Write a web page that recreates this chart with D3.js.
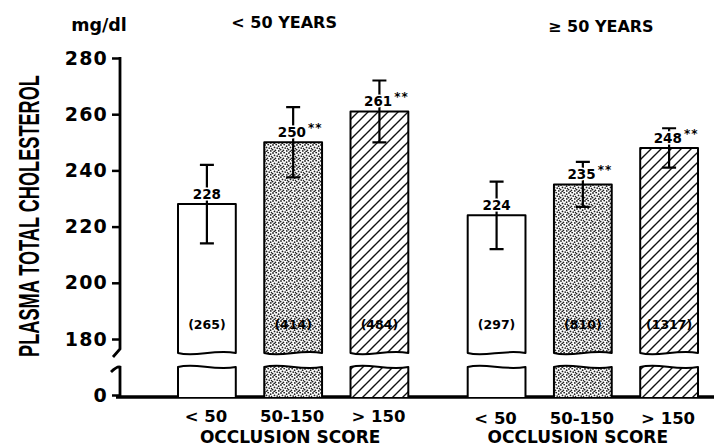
<!DOCTYPE html>
<html>
<head>
<meta charset="utf-8">
<script src="https://cdn.jsdelivr.net/npm/d3@7/dist/d3.min.js"></script>
<style>
  html, body { margin: 0; padding: 0; background: #fff; }
  svg { display: block; }
</style>
</head>
<body>
<svg id="chart" width="714" height="447"></svg>
<script>
// ---------- data ----------
const groups = ["< 50 YEARS", "\u2265 50 YEARS"];
const categories = ["< 50", "50-150", "> 150"];
const meansYoung = [228, 250, 261];
const meansOld = [224, 235, 248];
const seYoung = [14, 12.5, 11];
const seOld = [12, 8, 7];
const nYoung = [265, 414, 484];
const nOld = [297, 810, 1317];
const sigYoung = ["", "**", "**"];
const sigOld = ["", "**", "**"];
const yTicks = [180, 200, 220, 240, 260, 280];
const zeroTick = [0];
const unitLabel = "mg/dl";
const yTitle = "PLASMA TOTAL CHOLESTEROL";
const xTitle = "OCCLUSION SCORE";

const rows = [];
[[meansYoung, seYoung, nYoung, sigYoung], [meansOld, seOld, nOld, sigOld]].forEach((arr, gi) => {
  categories.forEach((c, ci) => {
    rows.push({ group: groups[gi], gi, cat: c, ci, mean: arr[0][ci], se: arr[1][ci], n: arr[2][ci], sig: arr[3][ci] });
  });
});

// ---------- layout ----------
const svg = d3.select("#chart");
const font = "'DejaVu Sans', 'Liberation Sans', Arial, sans-serif";
const axisX = 120;
const breakTop = 353;     // bottom of upper bar part
const lowTop = 367;       // top of lower bar part
const baseY = 397;

const y = d3.scaleLinear().domain([180, 280]).range([339, 58]);
const yLow = d3.scaleLinear().domain([0, 10]).range([395, 367]);

const x0 = d3.scaleBand().domain(groups).range([178, 698]).paddingInner(0.205).paddingOuter(0);
const x1 = d3.scaleBand().domain(categories).range([0, x0.bandwidth()]).paddingInner(0.33).paddingOuter(0);

// ---------- patterns ----------
const defs = svg.append("defs");
const dots = defs.append("pattern").attr("id", "dots").attr("patternUnits", "userSpaceOnUse")
  .attr("width", 8).attr("height", 8);
dots.append("rect").attr("width", 8).attr("height", 8).attr("fill", "#fff");
[[1,1],[4.2,0.6],[6.6,2.2],[2.5,3.4],[5.2,4.1],[0.6,5.6],[3.4,6.4],[6.8,6.9],[7.6,4.6],[2.2,7.7]].forEach(p => {
  dots.append("circle").attr("cx", p[0]).attr("cy", p[1]).attr("r", 0.9).attr("fill", "#222");
});

const hatch = defs.append("pattern").attr("id", "hatch").attr("patternUnits", "userSpaceOnUse")
  .attr("width", 10).attr("height", 10);
hatch.append("rect").attr("width", 10).attr("height", 10).attr("fill", "#fff");
hatch.append("path").attr("d", "M-2,2 L2,-2 M0,10 L10,0 M8,12 L12,8")
  .attr("stroke", "#111").attr("stroke-width", 1.4);

const fillFor = ci => ["#fff", "url(#dots)", "url(#hatch)"][ci];

// ---------- axis ----------
const gAxis = svg.append("g").attr("transform", `translate(${axisX},0)`);
gAxis.call(d3.axisLeft(y).tickValues(yTicks).tickSize(8).tickPadding(4));
gAxis.call(g => g.select(".domain").remove());
const gAxis0 = svg.append("g").attr("transform", `translate(${axisX},0)`);
gAxis0.call(d3.axisLeft(yLow).tickValues(zeroTick).tickSize(8).tickPadding(4));
gAxis0.call(g => g.select(".domain").remove());
svg.selectAll(".tick line").attr("stroke", "#000").attr("stroke-width", 2.5);
svg.selectAll(".tick text").attr("font-family", font).attr("font-weight", "bold")
  .attr("font-size", 19).attr("fill", "#000").attr("letter-spacing", 1.2);

// axis line with break
svg.append("path")
  .attr("d", `M${axisX},${y(280) - 1} L${axisX},${breakTop - 4} L${axisX - 7},${breakTop + 4}`)
  .attr("fill", "none").attr("stroke", "#000").attr("stroke-width", 2.8);
svg.append("path")
  .attr("d", `M${axisX - 9},${lowTop + 5} Q${axisX - 3},${lowTop - 1} ${axisX},${lowTop} L${axisX},${baseY}`)
  .attr("fill", "none").attr("stroke", "#000").attr("stroke-width", 2.8);

// baseline
svg.append("line").attr("x1", axisX - 4).attr("x2", 714).attr("y1", baseY).attr("y2", baseY)
  .attr("stroke", "#000").attr("stroke-width", 3.5);

// ---------- bars ----------
const bars = svg.append("g").selectAll("g").data(rows).join("g");

bars.append("path")
  .attr("d", d => {
    const xa = x0(d.group) + x1(d.cat), w = x1.bandwidth(), xb = xa + w, t = y(d.mean), b = breakTop;
    return `M${xa},${b} L${xa},${t} L${xb},${t} L${xb},${b} C${xa + w * 0.6},${b - 4} ${xa + w * 0.3},${b + 5} ${xa},${b} Z`;
  })
  .attr("fill", d => fillFor(d.ci)).attr("stroke", "#000").attr("stroke-width", 2).attr("stroke-linejoin", "round");

bars.append("path")
  .attr("d", d => {
    const xa = x0(d.group) + x1(d.cat), w = x1.bandwidth(), xb = xa + w, t = lowTop, b = baseY;
    return `M${xa},${b} L${xa},${t} C${xa + w * 0.3},${t - 5} ${xa + w * 0.6},${t + 4} ${xb},${t} L${xb},${b}`;
  })
  .attr("fill", d => fillFor(d.ci)).attr("stroke", "#000").attr("stroke-width", 2).attr("stroke-linejoin", "round");

// error bars
bars.append("path")
  .attr("d", d => {
    const cx = x0(d.group) + x1(d.cat) + x1.bandwidth() / 2;
    const hi = y(d.mean + d.se), lo = y(d.mean - d.se);
    return `M${cx - 7},${hi} L${cx + 7},${hi} M${cx},${hi} L${cx},${lo} M${cx - 7},${lo} L${cx + 7},${lo}`;
  })
  .attr("fill", "none").attr("stroke", "#000").attr("stroke-width", 2.2);

// value labels
const vl = bars.append("text")
  .attr("x", d => x0(d.group) + x1(d.cat) + x1.bandwidth() / 2 + (d.sig ? 7 : 0))
  .attr("y", d => y(d.mean) - 5)
  .attr("text-anchor", "middle")
  .attr("font-family", font).attr("font-weight", "bold").attr("font-size", 13.5)
  .attr("stroke", "#fff").attr("stroke-width", 3).attr("paint-order", "stroke").attr("fill", "#000");
vl.append("tspan").text(d => d.mean);
vl.append("tspan").attr("dy", -5).attr("font-size", 12).attr("dx", 2).attr("letter-spacing", 1).text(d => d.sig);

// n labels
bars.append("text")
  .attr("x", d => x0(d.group) + x1(d.cat) + x1.bandwidth() / 2)
  .attr("y", 329)
  .attr("text-anchor", "middle")
  .attr("font-family", font).attr("font-weight", "bold").attr("font-size", 12.5).attr("fill", "#000")
  .text(d => `(${d.n})`);

// ---------- texts ----------
const tickY = [422, 424];
groups.forEach((g, gi) => {
  categories.forEach(c => {
    svg.append("text")
      .attr("x", x0(g) + x1(c) + x1.bandwidth() / 2 - 1)
      .attr("y", tickY[gi])
      .attr("text-anchor", "middle")
      .attr("font-family", font).attr("font-weight", "bold").attr("font-size", 16.5).attr("fill", "#000")
      .text(c);
  });
  svg.append("text")
    .attr("x", x0(g) + x0.bandwidth() / 2 + [-3, -5][gi])
    .attr("y", [443, 443][gi])
    .attr("text-anchor", "middle")
    .attr("font-family", font).attr("font-weight", "bold").attr("font-size", 17).attr("fill", "#000")
    .text(xTitle);
  svg.append("text")
    .attr("x", x0(g) + x0.bandwidth() / 2 + [-9, 18][gi])
    .attr("y", [28, 32][gi])
    .attr("text-anchor", "middle")
    .attr("font-family", font).attr("font-weight", "bold").attr("font-size", 16).attr("fill", "#000")
    .text(g);
});

svg.append("text").attr("x", 99).attr("y", 31).attr("text-anchor", "middle")
  .attr("font-family", font).attr("font-weight", "bold").attr("font-size", 17.5).attr("fill", "#000")
  .text(unitLabel);

// y title: condensed by a horizontal scale so that it spans the axis height
const yt = svg.append("text")
  .attr("text-anchor", "middle")
  .attr("font-family", "'Liberation Sans Narrow', 'Liberation Sans', sans-serif")
  .attr("font-weight", "bold").attr("font-size", 29)
  .attr("fill", "#000")
  .text(yTitle);
const natural = yt.node().getComputedTextLength();
yt.attr("transform", `translate(39,216) rotate(-90) scale(${282 / natural},1)`);
</script>
</body>
</html>
